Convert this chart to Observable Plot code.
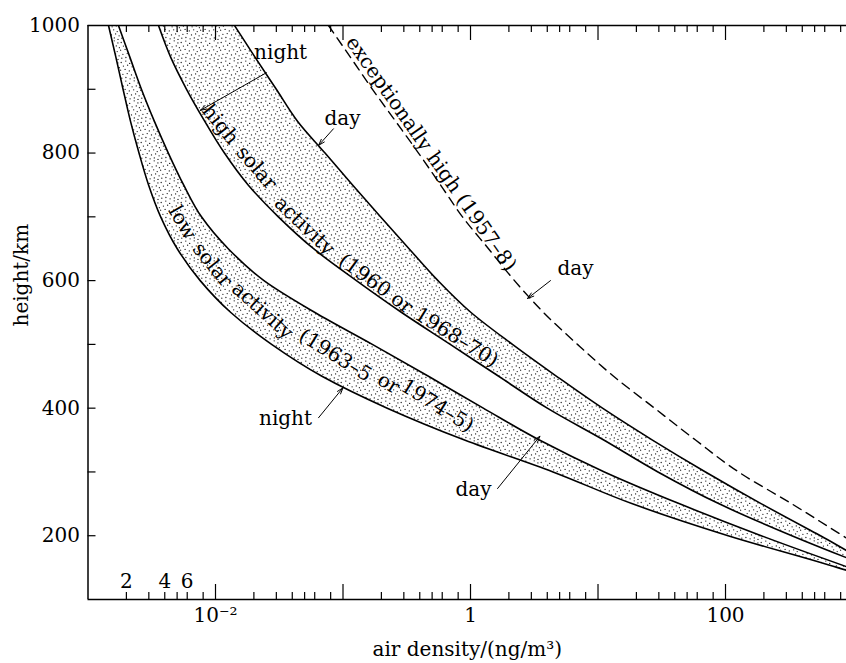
<!DOCTYPE html>
<html><head><meta charset="utf-8">
<script src="https://cdn.jsdelivr.net/npm/d3@7"></script>
<script src="https://cdn.jsdelivr.net/npm/@observablehq/plot@0.6"></script>
<style>body{margin:0;background:#fff} svg{display:block}</style>
</head><body><div id="chart"></div>
<script>
// heights (km) at which each curve is read
const heights = [1000,950,900,850,800,750,700,650,600,550,500,450,400,350,300,250,200,150,120];
// log10 of air density (ng/m^3)
const lowNightLog  = [-2.839,-2.781,-2.725,-2.667,-2.600,-2.525,-2.430,-2.300,-2.120,-1.880,-1.560,-1.165,-0.653,-0.047,0.647,1.270,2.020,2.880,3.350];
const lowDayLog    = [-2.761,-2.671,-2.581,-2.480,-2.370,-2.250,-2.110,-1.900,-1.620,-1.220,-0.770,-0.330,0.100,0.540,1.050,1.640,2.280,2.970,3.400];
const highNightLog = [-2.447,-2.351,-2.227,-2.085,-1.930,-1.744,-1.507,-1.231,-0.895,-0.540,-0.159,0.221,0.602,1.045,1.470,1.950,2.520,3.150,3.550];
const highDayLog   = [-1.851,-1.689,-1.523,-1.357,-1.141,-0.925,-0.706,-0.482,-0.255,0.004,0.329,0.675,1.035,1.427,1.843,2.282,2.745,3.216,3.620];
const exceptDayLog = [-1.114,-0.941,-0.769,-0.588,-0.408,-0.235,-0.063,0.141,0.345,0.573,0.839,1.122,1.443,1.765,2.102,2.520,2.920,3.330,3.700];

const xMajorTicks = [0.01,0.1,1,10,100];
const xMinorMultipliers = [2,3,4,5,6,8];
const xDecades = [0.001,0.01,0.1,1,10,100];
const xTickLabels = [{v:0.01,t:"10⁻²"},{v:1,t:"1"},{v:100,t:"100"}];
const xInnerLabels = [{v:0.002,t:"2"},{v:0.004,t:"4"},{v:0.006,t:"6"}];
const yTicks = [200,300,400,500,600,700,800,900];
const yTickLabels = [200,400,600,800,1000];

// annotation words placed along the bands (density, height, rotation in degrees)
const exceptionalLabel = [{v:0.1146,h:979.6,r:55,t:"exceptionally high (1957–8)"}];
const bandWords = [
  {v:0.01094,h:845,r:51,t:"high"},
  {v:0.0210,h:777,r:49,t:"solar"},
  {v:0.0499,h:686,r:44,t:"activity"},
  {v:0.148,h:608,r:36,t:"(1960"},
  {v:0.290,h:565,r:38,t:"or"},
  {v:0.778,h:511,r:32,t:"1968–70)"},
  {v:0.00551,h:691,r:60,t:"low"},
  {v:0.00946,h:625,r:51,t:"solar"},
  {v:0.0234,h:553,r:42,t:"activity"},
  {v:0.0873,h:483,r:32,t:"(1963–5"},
  {v:0.2275,h:439,r:31,t:"or"},
  {v:0.55,h:404,r:32,t:"1974–5)"}
];
const labels = [
  {v:0.0324,h:957,t:"night"},
  {v:0.0991,h:854,t:"day"},
  {v:6.67,h:619,t:"day"},
  {v:0.0354,h:384,t:"night"},
  {v:1.056,h:272,t:"day"}
];
const arrows = [
  {v1:0.0251,h1:926,v2:0.00762,h2:867},
  {v1:0.0841,h1:838,v2:0.0643,h2:812},
  {v1:4.24,h1:600,v2:2.80,h2:572},
  {v1:0.0643,h1:385,v2:0.100,h2:432},
  {v1:1.63,h1:274,v2:3.50,h2:356}
];

const curve = (logs) => heights.map((h,i)=>({h, v: 10**logs[i]}));
const band = (nightLogs, dayLogs) => heights.map((h,i)=>({h, n: 10**nightLogs[i], d: 10**dayLogs[i]}));
const minorTicks = xDecades.flatMap(d => xMinorMultipliers.map(m => d*m)).filter(v => v < 889);

const W = 846, H = 663, mL = 87.5, mR = 0, mT = 25, mB = 64;
const fw = W - mL - mR, fh = H - mT - mB;
const cv = "monotone-y";

const chart = Plot.plot({
  width: W, height: H,
  marginLeft: mL, marginRight: mR, marginTop: mT, marginBottom: mB,
  x: {type: "log", domain: [0.001, 889], axis: null},
  y: {domain: [100, 1000], axis: null},
  style: {fontFamily: "'DejaVu Serif', serif", fontSize: "20px", color: "black", background: "white"},
  marks: [
    Plot.areaX(band(lowNightLog, lowDayLog), {y: "h", x1: "n", x2: "d", fill: "url(#stipple)", curve: cv, clip: true}),
    Plot.areaX(band(highNightLog, highDayLog), {y: "h", x1: "n", x2: "d", fill: "url(#stipple)", curve: cv, clip: true}),
    Plot.line(curve(lowNightLog), {x: "v", y: "h", curve: cv, clip: true, strokeWidth: 1.6}),
    Plot.line(curve(lowDayLog), {x: "v", y: "h", curve: cv, clip: true, strokeWidth: 1.6}),
    Plot.line(curve(highNightLog), {x: "v", y: "h", curve: cv, clip: true, strokeWidth: 1.6}),
    Plot.line(curve(highDayLog), {x: "v", y: "h", curve: cv, clip: true, strokeWidth: 1.6}),
    Plot.line(curve(exceptDayLog), {x: "v", y: "h", curve: cv, clip: true, strokeWidth: 1.4, strokeDasharray: "9,6"}),
    // frame
    Plot.ruleY([1000, 100], {strokeWidth: 1.5}),
    Plot.ruleX([0.001], {strokeWidth: 1.5}),
    // ticks (inward)
    Plot.tickX(xMajorTicks, {x: d => d, insetTop: fh - 15, strokeWidth: 1.2}),
    Plot.tickX(minorTicks, {x: d => d, insetTop: fh - 7, strokeWidth: 1.2}),
    Plot.tickX(xMajorTicks, {x: d => d, insetBottom: fh - 15, strokeWidth: 1.2}),
    Plot.tickX(minorTicks, {x: d => d, insetBottom: fh - 7, strokeWidth: 1.2}),
    Plot.tickY(yTicks, {y: d => d, insetRight: fw - 8, strokeWidth: 1.2}),
    // tick labels
    Plot.text(xTickLabels, {x: "v", text: "t", frameAnchor: "bottom", dy: 8, lineAnchor: "top", fontSize: 20}),
    Plot.text(xInnerLabels, {x: "v", text: "t", frameAnchor: "bottom", dy: -12, lineAnchor: "bottom", fontSize: 20}),
    Plot.text(yTickLabels, {y: d => d, text: d => String(d), frameAnchor: "left", textAnchor: "end", dx: -8, fontSize: 20}),
    // axis titles
    Plot.text(["air density/(ng/m³)"], {frameAnchor: "bottom", dy: 50, dx: 0, lineAnchor: "middle", fontSize: 20}),
    Plot.text(["height/km"], {frameAnchor: "left", rotate: -90, dx: -66, dy: 14, fontSize: 20}),
    // annotations
    Plot.text(exceptionalLabel, {x: "v", y: "h", text: "t", rotate: "r", textAnchor: "start", fontSize: 20}),
    Plot.text(bandWords, {x: "v", y: "h", text: "t", rotate: "r", fontSize: 20}),
    Plot.text(labels, {x: "v", y: "h", text: "t", fontSize: 20}),
    Plot.arrow(arrows, {x1: "v1", y1: "h1", x2: "v2", y2: "h2", headLength: 10, headAngle: 35, strokeWidth: 1})
  ]
});

// stipple pattern (irregular dot tile)
const ns = "http://www.w3.org/2000/svg";
const defs = document.createElementNS(ns, "defs");
const pat = document.createElementNS(ns, "pattern");
pat.setAttribute("id", "stipple");
pat.setAttribute("patternUnits", "userSpaceOnUse");
pat.setAttribute("width", "20"); pat.setAttribute("height", "20");
[[1.2,2.5],[5.8,1.1],[9.7,3.4],[14.2,0.8],[17.9,2.9],[3.4,6.1],[7.6,5.2],[12.1,6.8],[16.3,5.9],[19.4,7.7],
 [0.6,10.2],[5.1,9.4],[9.3,10.9],[13.7,9.8],[17.2,11.6],[2.9,14.3],[7.2,13.6],[11.5,14.9],[15.6,13.9],[19.1,15.8],
 [1.8,18.2],[5.9,17.5],[10.1,18.8],[14.3,17.9],[18.0,19.4]].forEach(([cx,cy]) => {
  const c = document.createElementNS(ns, "circle");
  c.setAttribute("cx", cx); c.setAttribute("cy", cy); c.setAttribute("r", "0.65"); c.setAttribute("fill", "#111");
  pat.appendChild(c);
});
defs.appendChild(pat);
chart.insertBefore(defs, chart.firstChild);
document.getElementById("chart").appendChild(chart);
</script></body></html>
